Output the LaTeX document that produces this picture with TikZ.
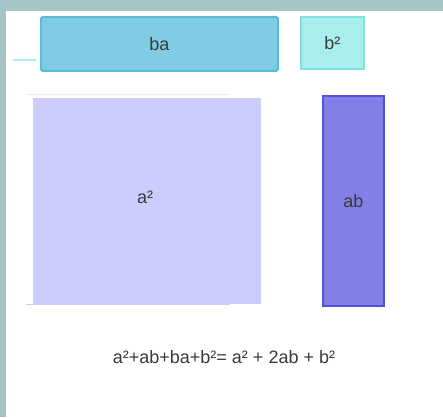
\documentclass[tikz,border=0pt]{standalone}
\usepackage{fontspec}
\setmainfont{Liberation Sans}
\definecolor{framegrey}{HTML}{A5C4C8}
\definecolor{bafill}{HTML}{7FCCE4}
\definecolor{badraw}{HTML}{5BBAD8}
\definecolor{bbfill}{HTML}{A8EEEC}
\definecolor{bbdraw}{HTML}{7FE2E2}
\definecolor{aafill}{HTML}{CCCCFF}
\definecolor{abfill}{HTML}{8080E6}
\definecolor{abdraw}{HTML}{5252D8}
\definecolor{txt}{HTML}{3A3A3A}
\begin{document}
\begin{tikzpicture}[x=1pt,y=-1pt,
  lbl/.style={text=txt,font=\fontsize{18}{21}\selectfont,inner sep=0pt},
  boxbase/.style={inner sep=0pt,line width=1.8pt}]
\useasboundingbox (0,0) rectangle (443,417);
\fill[framegrey] (0,0) rectangle (443,417);
\fill[white] (6,11) rectangle (443,417);
% rectangles
\node[boxbase,draw=badraw,fill=bafill,rounded corners=1.5pt,minimum width=237pt,minimum height=54pt,anchor=north west] (ba) at (40,16) {};
\node[boxbase,draw=bbdraw,fill=bbfill,minimum width=63pt,minimum height=52pt,anchor=north west] (bb) at (300,16) {};
\node[boxbase,fill=aafill,minimum width=228pt,minimum height=206pt,anchor=north west] (aa) at (32,97) {};
\node[boxbase,draw=abdraw,fill=abfill,minimum width=61pt,minimum height=210pt,anchor=north west] (ab) at (322,95) {};
% faint lines
\coordinate (l1a) at (13,60); \coordinate (l1b) at (36,60);
\draw[bbfill,line width=1.2pt] (l1a) -- (l1b);
\coordinate (t1) at (26,94.5); \coordinate (t2) at (230,94.5);
\draw[aafill!40,line width=1.2pt] (t1) -- (t2);
\coordinate (u1) at (26,304.5); \coordinate (u2) at (230,304.5);
\draw[aafill,line width=1.2pt] (u1) -- (u2);
% labels
\node[lbl] (tba) at (ba.center) {ba};
\node[lbl] (tbb) at (bb.center) {b²};
\node[lbl] (taa) at (145,197) {a²};
\node[lbl] (tab) at (ab.center) {ab};
\node[lbl] (eq) at (224,357) {a²+ab+ba+b²= a² + 2ab + b²};
\end{tikzpicture}
\end{document}
